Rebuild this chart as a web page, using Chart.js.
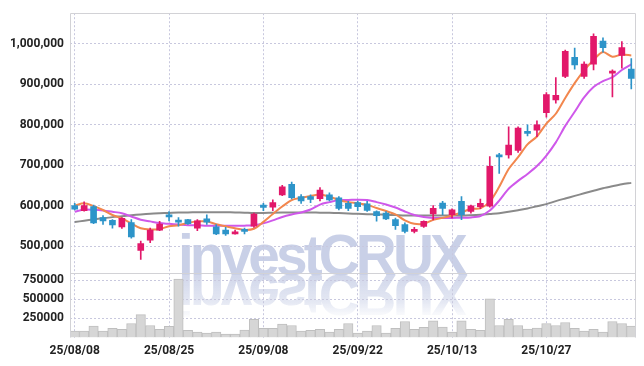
<!DOCTYPE html>
<html><head><meta charset="utf-8">
<script src="https://cdn.jsdelivr.net/npm/chart.js@4.4.1/dist/chart.umd.min.js"></script>
<style>html,body{margin:0;padding:0;background:#fff;}#wrap{position:relative;width:644px;height:366px;}</style>
</head><body><div id="wrap"><canvas id="c" width="644" height="366"></canvas></div>
<script>
const dates = ['25/08/08','25/08/11','25/08/12','25/08/13','25/08/14','25/08/18','25/08/19','25/08/20','25/08/21','25/08/22',
'25/08/25','25/08/26','25/08/27','25/08/28','25/08/29','25/09/01','25/09/02','25/09/03','25/09/04','25/09/05',
'25/09/08','25/09/09','25/09/10','25/09/11','25/09/12','25/09/15','25/09/16','25/09/17','25/09/18','25/09/19',
'25/09/22','25/09/23','25/09/24','25/09/25','25/09/26','25/09/29','25/09/30','25/10/01','25/10/02','25/10/10',
'25/10/13','25/10/14','25/10/15','25/10/16','25/10/17','25/10/20','25/10/21','25/10/22','25/10/23','25/10/24',
'25/10/27','25/10/28','25/10/29','25/10/30','25/10/31','25/11/03','25/11/04','25/11/05','25/11/06','25/11/07'];
const openP = [601000,588000,598000,571000,564000,548000,559000,490000,515000,540000,
575000,561000,566000,545000,568000,548000,540000,531000,541000,550000,
602000,597000,627000,653000,623000,623000,618000,627000,620000,606000,
608000,605000,586000,582000,566000,554000,537000,549000,580000,607000,
578000,611000,586000,598000,599000,726000,726000,737000,784000,787000,
830000,862000,920000,967000,920000,950000,1007000,928000,972000,938000];
const highP = [606000,610000,602000,576000,566000,571000,566000,513000,545000,562000,
586000,571000,567000,566000,578000,554000,547000,540000,545000,582000,
606000,615000,651000,659000,628000,627000,645000,632000,623000,611000,
612000,611000,588000,586000,570000,558000,547000,563000,601000,611000,
593000,623000,602000,617000,722000,730000,795000,795000,800000,810000,
880000,917000,985000,990000,956000,1025000,1015000,936000,1006000,964000];
const lowP = [590000,587000,556000,554000,545000,544000,520000,468000,509000,539000,
563000,550000,554000,539000,554000,529000,527000,530000,531000,547000,
588000,588000,625000,617000,606000,608000,612000,612000,590000,588000,
588000,586000,562000,566000,542000,533000,533000,547000,565000,578000,
570000,566000,582000,593000,597000,680000,718000,732000,773000,771000,
819000,854000,917000,938000,915000,936000,980000,869000,940000,889000];
const closeP = [592000,601000,558000,563000,553000,569000,523000,507000,540000,555000,
573000,560000,556000,563000,560000,531000,531000,536000,537000,580000,
596000,608000,647000,620000,612000,616000,639000,615000,594000,594000,
598000,589000,576000,568000,551000,537000,542000,562000,594000,594000,
590000,578000,600000,606000,698000,721000,750000,792000,779000,800000,
875000,873000,982000,948000,950000,1019000,991000,932000,991000,915000];
const ma5 = [600700,606400,599500,589800,577500,569000,556800,544600,541500,542900,
549500,552000,558000,561700,561700,554400,549500,544600,540500,543400,
560500,580000,598300,614200,619800,624400,628300,622700,614600,609300,
606400,602400,594700,587300,578800,564200,555600,555600,565400,570300,
576300,583700,592700,594100,610500,647100,691000,720300,752000,771500,
803200,827600,866600,903200,934900,960500,980000,968300,973900,971500];
const ma10 = [585400,591000,590300,588500,585400,581900,573900,565900,561700,557600,
555600,553700,552000,552000,550700,550700,550700,550700,551200,552400,
556800,564200,572700,578800,583700,591000,603200,609300,614200,614600,
615400,614600,609300,603200,595900,586100,577600,572700,570300,569800,
570300,570700,571500,575100,588500,612900,642200,661700,678800,698300,
724400,756900,797600,832400,867800,893400,908100,917800,935600,949500];
const ma60 = [560000,563400,566600,569500,572200,574400,576800,578800,580500,581700,
582700,583700,583900,584200,584400,584400,584200,583900,583200,582400,
582400,583200,583700,583700,583700,583700,583200,582900,582200,581200,
580500,579500,578800,578100,577300,576300,576300,576300,576300,576300,
576300,575900,576800,578100,580000,581900,585400,589300,593400,599100,
604400,611700,618300,624700,631000,637300,643400,648500,653200,656800];
const volume = [84000,84000,149000,84000,119000,106000,184000,300000,158000,106000,
145000,767000,93000,71000,58000,71000,45000,45000,97000,240000,
119000,119000,175000,158000,84000,93000,106000,71000,106000,184000,
58000,84000,158000,58000,119000,210000,106000,132000,219000,136000,
71000,219000,106000,93000,508000,158000,240000,158000,110000,123000,
184000,158000,197000,119000,84000,106000,71000,210000,184000,149000];
const priceTicks = [500000,600000,700000,800000,900000,1000000];
const volTicks = [250000,500000,750000];

const UP = '#e2186a', DOWN = '#2d94c9';
const candleColors = closeP.map((c, i) => c >= openP[i] ? UP : DOWN);
const wickData = lowP.map((l, i) => [l, highP[i]]);
const bodyData = openP.map((o, i) => [o, closeP[i]]);
const GRID = '#c8c8de';
const FONT = {family: 'Roboto', size: 12, weight: 'bold'};

const deco = {
  id: 'deco',
  beforeDraw(chart) {
    const ctx = chart.ctx;
    ctx.save();
    ctx.font = 'bold 58px "Liberation Sans"';
    try { ctx.letterSpacing = '-4px'; } catch (e) {}
    ctx.textAlign = 'left';
    ctx.textBaseline = 'alphabetic';
    const wx = 178, wb = 275, ww = 286;
    ctx.fillStyle = '#c9d0e7';
    ctx.fillText('investCRUX', wx, wb, ww);
    ctx.translate(0, wb * 2);
    ctx.scale(1, -1);
    const g = ctx.createLinearGradient(0, wb, 0, wb - 44);
    g.addColorStop(0, 'rgba(201,208,231,0.85)');
    g.addColorStop(0.6, 'rgba(201,208,231,0.5)');
    g.addColorStop(1, 'rgba(201,208,231,0)');
    ctx.fillStyle = g;
    ctx.fillText('investCRUX', wx, wb, ww);
    ctx.restore();
  },
  afterDraw(chart) {
    const ctx = chart.ctx, a = chart.chartArea;
    ctx.save();
    ctx.strokeStyle = '#d2d2d6';
    ctx.lineWidth = 1;
    ctx.beginPath();
    const l = Math.round(a.left) + 0.5, r = Math.round(a.right) - 0.5;
    const t = Math.round(a.top) + 0.5, b = Math.round(a.bottom) - 0.5;
    const m = Math.round(chart.scales.y.bottom) + 0.5;
    ctx.moveTo(l, b); ctx.lineTo(l, t); ctx.lineTo(r, t); ctx.lineTo(r, b);
    ctx.moveTo(l, m); ctx.lineTo(r, m);
    ctx.stroke();
    ctx.restore();
  }
};

new Chart(document.getElementById('c'), {
  data: {
    labels: dates,
    datasets: [
      {type: 'line', data: ma60, yAxisID: 'y', borderColor: '#8a8a8a', borderWidth: 2, pointRadius: 0, tension: 0.3, order: 5},
      {type: 'line', data: ma10, yAxisID: 'y', borderColor: '#cf58ea', borderWidth: 2, pointRadius: 0, tension: 0.3, order: 4},
      {type: 'line', data: ma5, yAxisID: 'y', borderColor: '#f2874e', borderWidth: 2, pointRadius: 0, tension: 0.3, order: 3},
      {type: 'bar', data: wickData, yAxisID: 'y', backgroundColor: candleColors, barThickness: 1, grouped: false, order: 2},
      {type: 'bar', data: bodyData, yAxisID: 'y', backgroundColor: candleColors, barThickness: 6, minBarLength: 2, grouped: false, order: 1},
      {type: 'bar', data: volume, yAxisID: 'yv', backgroundColor: '#d6d6d6', borderColor: '#bfbfbf', borderWidth: 1, barPercentage: 1, categoryPercentage: 1, grouped: false, order: 6}
    ]
  },
  options: {
    responsive: false,
    animation: false,
    events: [],
    layout: {padding: {top: 9, right: 8, left: 0, bottom: 0}},
    plugins: {legend: {display: false}, tooltip: {enabled: false}},
    scales: {
      x: {
        type: 'category', offset: true,
        grid: {offset: false, drawTicks: false, color: c => (c.index % 10 === 0 ? GRID : 'rgba(0,0,0,0)')},
        border: {display: false, dash: [2, 2]},
        ticks: {autoSkip: false, maxRotation: 0, padding: 6, color: '#222', font: FONT,
          callback: (v, i) => (i % 10 === 0 ? dates[i] : '')},
        afterFit: s => { s.height = 28.5; }
      },
      y: {
        type: 'linear', position: 'left', stack: 's', stackWeight: 4.065, weight: 1,
        min: 433000, max: 1076000,
        afterBuildTicks: s => { s.ticks = priceTicks.map(v => ({value: v})); },
        grid: {drawTicks: false, color: GRID},
        border: {display: false, dash: [2, 2]},
        ticks: {padding: 6, color: '#222', font: FONT, callback: v => v.toLocaleString('en-US')},
        afterFit: s => { s.width = 70; }
      },
      yv: {
        type: 'linear', position: 'left', stack: 's', stackWeight: 1, weight: 0,
        min: 0, max: 840000,
        afterBuildTicks: s => { s.ticks = volTicks.map(v => ({value: v})); },
        grid: {drawTicks: false, color: GRID},
        border: {display: false, dash: [2, 2]},
        ticks: {padding: 6, color: '#222', font: FONT, callback: v => String(v)},
        afterFit: s => { s.width = 70; }
      }
    }
  },
  plugins: [deco]
});
</script></body></html>
